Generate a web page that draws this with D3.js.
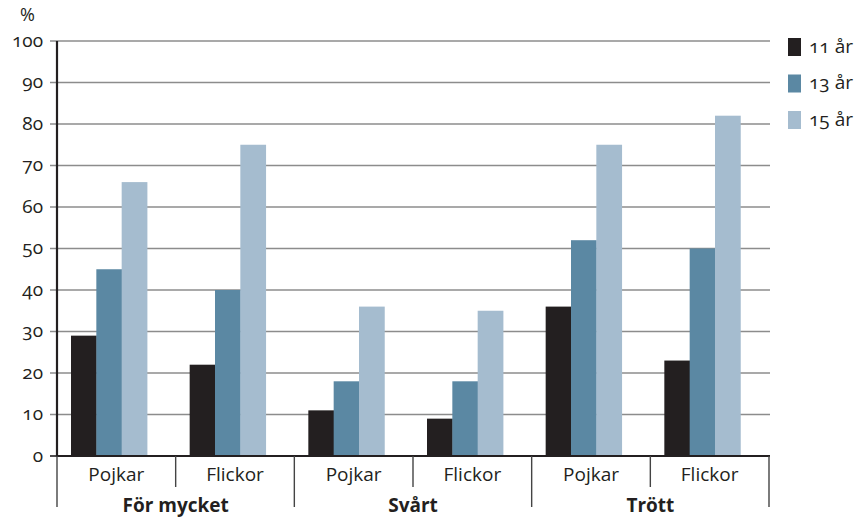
<!DOCTYPE html>
<html><head><meta charset="utf-8">
<script src="https://cdn.jsdelivr.net/npm/d3@7"></script>
<style>
body{margin:0;background:#fff;}
text{font-family:"Open Sans",Lato,sans-serif;fill:#231f20;font-variant-numeric:oldstyle-nums;font-feature-settings:"onum";}
</style></head><body>
<svg id="c" width="854" height="518"></svg>
<script>
const groups = ["För mycket","Svårt","Trött"];
const subgroups = ["Pojkar","Flickor"];
const series = ["11 år","13 år","15 år"];
const colors = ["#231f20","#5b88a3","#a5bccf"];
const yTicks = [0,10,20,30,40,50,60,70,80,90,100];
// values[group][subgroup] = [11 år, 13 år, 15 år]
const forMycket = [[29,45,66],[22,40,75]];
const svart = [[11,18,36],[9,18,35]];
const trott = [[36,52,75],[23,50,82]];
const values = [forMycket, svart, trott];

const svg = d3.select("#c");
const L = 57, R = 769, T = 41, B = 456;
const FS = 19;
const cells = [];
groups.forEach((g,gi)=>subgroups.forEach((s,si)=>cells.push({g,s,key:g+"|"+s,vals:values[gi][si]})));
const x = d3.scaleBand().domain(cells.map(d=>d.key)).range([L,R]);
const xg = d3.scaleBand().domain(groups).range([L,R]);
const inner = d3.scaleBand().domain(series).range([14, 14+76]);
const y = d3.scaleLinear().domain([0,100]).range([B,T]);

svg.append("g").selectAll("line").data(yTicks.filter(t=>t>0)).join("line")
  .attr("x1",L-7).attr("x2",R+1).attr("y1",d=>y(d)).attr("y2",d=>y(d))
  .attr("stroke","#8c8c8c").attr("stroke-width",1.6);
svg.append("line").attr("x1",L-7).attr("x2",L).attr("y1",y(0)).attr("y2",y(0)).attr("stroke","#231f20").attr("stroke-width",1.6);
svg.append("g").selectAll("text").data(yTicks).join("text")
  .attr("x",43).attr("y",d=>y(d)).attr("dy","0.3em").attr("text-anchor","end")
  .attr("font-size",FS).text(d=>d);
svg.append("text").attr("x",20).attr("y",21).attr("font-size",18).text("%");

const cg = svg.append("g").selectAll("g").data(cells).join("g")
  .attr("transform",d=>`translate(${x(d.key)},0)`);
cg.selectAll("rect").data(d=>d.vals.map((v,i)=>({v,i}))).join("rect")
  .attr("x",d=>inner(series[d.i])).attr("width",inner.bandwidth()+0.4)
  .attr("y",d=>y(d.v)).attr("height",d=>y(0)-y(d.v))
  .attr("fill",d=>colors[d.i]);

svg.append("line").attr("x1",L).attr("x2",L).attr("y1",T).attr("y2",B+1).attr("stroke","#231f20").attr("stroke-width",2.2);
svg.append("line").attr("x1",L-1).attr("x2",R+1).attr("y1",B).attr("y2",B).attr("stroke","#231f20").attr("stroke-width",2.2);

svg.append("g").selectAll("line").data(cells.filter(d=>d.s==="Flickor")).join("line")
  .attr("x1",d=>x(d.key)).attr("x2",d=>x(d.key)).attr("y1",B).attr("y2",487)
  .attr("stroke","#444").attr("stroke-width",1.4);
const gb = groups.map(g=>xg(g)).concat([R]);
svg.append("g").selectAll("line").data(gb).join("line")
  .attr("x1",d=>d).attr("x2",d=>d).attr("y1",B).attr("y2",507)
  .attr("stroke","#444").attr("stroke-width",1.4);

svg.append("g").selectAll("text").data(cells).join("text")
  .attr("x",d=>x(d.key)+x.bandwidth()/2).attr("y",481).attr("text-anchor","middle")
  .attr("font-size",FS).text(d=>d.s);
svg.append("g").selectAll("text").data(groups).join("text")
  .attr("x",d=>xg(d)+xg.bandwidth()/2).attr("y",512).attr("text-anchor","middle")
  .attr("font-size",FS).attr("font-weight","bold").text(d=>d);

const lg = svg.append("g").selectAll("g").data(series).join("g")
  .attr("transform",(d,i)=>`translate(788,${38+i*36.5})`);
lg.append("rect").attr("width",13).attr("height",18).attr("fill",(d,i)=>colors[i]);
lg.append("text").attr("x",21).attr("y",9).attr("dy","0.3em").attr("font-size",FS).text(d=>d);
</script></body></html>
